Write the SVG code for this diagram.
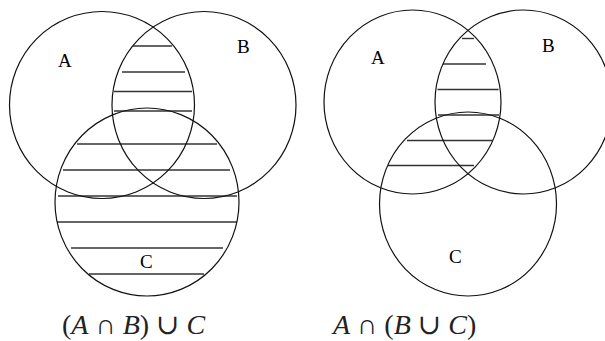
<svg xmlns="http://www.w3.org/2000/svg" width="605" height="341" viewBox="0 0 605 341">
<style>
.c{fill:none;stroke:#111;stroke-width:1.2}
.h line{stroke:#333;stroke-width:1.4}
.lbl{font-family:"Liberation Serif",serif;font-size:19px;fill:#000}
.f{font-family:"Liberation Serif","DejaVu Serif",serif;font-size:28px;fill:#222}
.i{font-style:italic}
</style>
<rect width="605" height="341" fill="#fff"/>
<g id="left">
  <g id="hatch-left" class="h">
    <line x1="133" y1="46" x2="172" y2="46"/>
    <line x1="122" y1="72" x2="185" y2="72"/>
    <line x1="114" y1="91.5" x2="192" y2="91.5"/>
    <line x1="114" y1="111" x2="192" y2="111"/>
    <line x1="77" y1="144" x2="217" y2="144"/>
    <line x1="63" y1="170" x2="230" y2="170"/>
    <line x1="58" y1="196" x2="237" y2="196"/>
    <line x1="57" y1="222" x2="237" y2="222"/>
    <line x1="71" y1="248" x2="223" y2="248"/>
    <line x1="89" y1="274" x2="204" y2="274"/>
  </g>
  <g id="L-A"><ellipse class="c" cx="102" cy="105" rx="92.5" ry="93.5"/><text class="lbl" x="58" y="67">A</text></g>
  <g id="L-B"><ellipse class="c" cx="204" cy="105" rx="92" ry="93.5"/><text class="lbl" x="237" y="53">B</text></g>
  <g id="L-C"><ellipse class="c" cx="147" cy="202" rx="92" ry="94"/><text class="lbl" x="140" y="268">C</text></g>
  <text id="L-formula" class="f" x="62" y="334">(<tspan class="i">A</tspan> ∩ <tspan class="i">B</tspan>) ∪ <tspan class="i">C</tspan></text>
</g>
<g id="right">
  <g id="hatch-right" class="h">
    <line x1="462" y1="38.5" x2="474" y2="38.5"/>
    <line x1="443" y1="64" x2="486" y2="64"/>
    <line x1="437.5" y1="89.5" x2="498.5" y2="89.5"/>
    <line x1="438" y1="115" x2="499" y2="115"/>
    <line x1="407" y1="140.5" x2="492.5" y2="140.5"/>
    <line x1="388" y1="165.5" x2="474" y2="165.5"/>
  </g>
  <g id="R-A"><ellipse class="c" cx="412.5" cy="102" rx="88.5" ry="92"/><text class="lbl" x="371" y="64">A</text></g>
  <g id="R-B"><ellipse class="c" cx="523.5" cy="102" rx="88.5" ry="92"/><text class="lbl" x="542" y="52">B</text></g>
  <g id="R-C"><ellipse class="c" cx="468" cy="204" rx="88.5" ry="92"/><text class="lbl" x="449" y="263">C</text></g>
  <text id="R-formula" class="f" x="333" y="334"><tspan class="i">A</tspan> ∩ (<tspan class="i">B</tspan> ∪ <tspan class="i">C</tspan>)</text>
</g>
</svg>
